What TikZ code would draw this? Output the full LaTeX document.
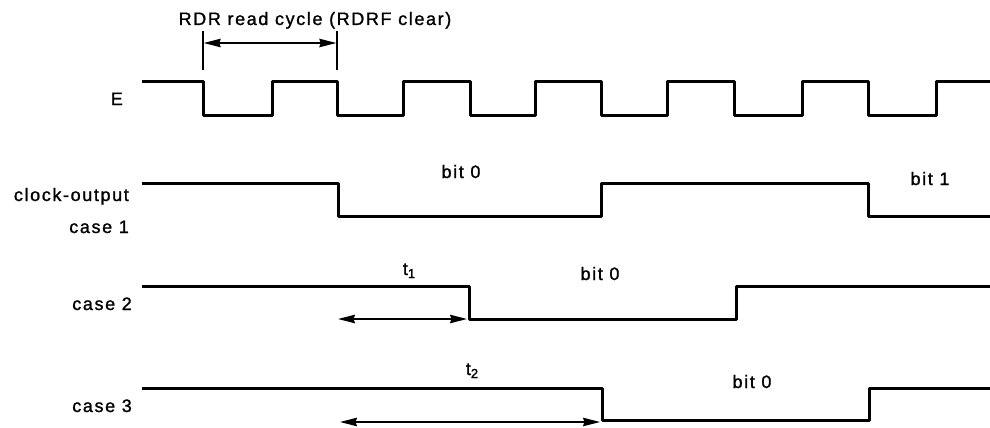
\documentclass[tikz,border=0pt]{standalone}
\usepackage{fontspec}
\setmainfont{Liberation Sans}[LetterSpace=9,FakeBold=1.2]
\usetikzlibrary{arrows.meta}
\begin{document}
\begin{tikzpicture}[x=1pt,y=-1pt,
  wave/.style={line width=3pt, line join=round},
  dim/.style={line width=1.5pt},
  dimarrow/.style={line width=1.5pt,{Stealth[length=17pt,width=8.5pt,inset=1.5pt]}-{Stealth[length=17pt,width=8.5pt,inset=1.5pt]}},
  lbl/.style={font=\fontsize{18}{21}\selectfont, inner sep=0pt},
]
\useasboundingbox (0,0) rectangle (990,428);

% E clock
\draw[wave] (142,81) -- (203,81) -- (203,115) -- (272,115) -- (272,81) -- (337,81) -- (337,115) -- (403,115) -- (403,81) -- (470,81) -- (470,115) -- (535,115) -- (535,81) -- (601,81) -- (601,115) -- (667,115) -- (667,81) -- (734,81) -- (734,115) -- (802,115) -- (802,81) -- (868,81) -- (868,115) -- (936,115) -- (936,81) -- (992,81);

% case 1
\draw[wave] (142,183) -- (338,183) -- (338,216) -- (601,216) -- (601,183) -- (868,183) -- (868,216) -- (992,216);
% case 2
\draw[wave] (142,286) -- (469,286) -- (469,319) -- (736,319) -- (736,286) -- (992,286);
% case 3
\draw[wave] (142,388) -- (602,388) -- (602,420) -- (869,420) -- (869,388) -- (992,388);

% RDR read cycle dimension
\coordinate (tlA) at (203,31);
\coordinate (tlB) at (203,70);
\coordinate (trA) at (337,31);
\coordinate (trB) at (337,70);
\coordinate (aL) at (203.7,43);
\coordinate (aR) at (336.3,43);
\draw[dim] (tlA) -- (tlB);
\draw[dim] (trA) -- (trB);
\draw[dimarrow] (aL) -- (aR);

% t1 and t2 arrows
\coordinate (t1L) at (338,319);
\coordinate (t1R) at (467,319);
\coordinate (t2L) at (340,422);
\coordinate (t2R) at (600,422);
\draw[dimarrow] (t1L) -- (t1R);
\draw[dimarrow] (t2L) -- (t2R);

% labels
\node[lbl, anchor=base] (rdr) at (315,25) {RDR read cycle (RDRF clear)};
\node[lbl, anchor=base east] (lE) at (123,105) {E};
\node[lbl, anchor=base east] (lclk) at (129,201) {clock-output};
\node[lbl, anchor=base east] (lc1) at (129,233) {case 1};
\node[lbl, anchor=base east] (lc2) at (132,310) {case 2};
\node[lbl, anchor=base east] (lc3) at (132,412) {case 3};
\node[lbl, anchor=base] (b0a) at (461,178) {bit 0};
\node[lbl, anchor=base] (b1) at (930,185) {bit 1};
\node[lbl, anchor=base] (b0b) at (600,280) {bit 0};
\node[lbl, anchor=base] (b0c) at (752,388) {bit 0};
\node[lbl, anchor=base] (t1) at (409,275) {t\raisebox{-3pt}{\fontsize{13}{13}\selectfont 1}};
\node[lbl, anchor=base] (t2) at (472,375) {t\raisebox{-3pt}{\fontsize{13}{13}\selectfont 2}};
\end{tikzpicture}
\end{document}
